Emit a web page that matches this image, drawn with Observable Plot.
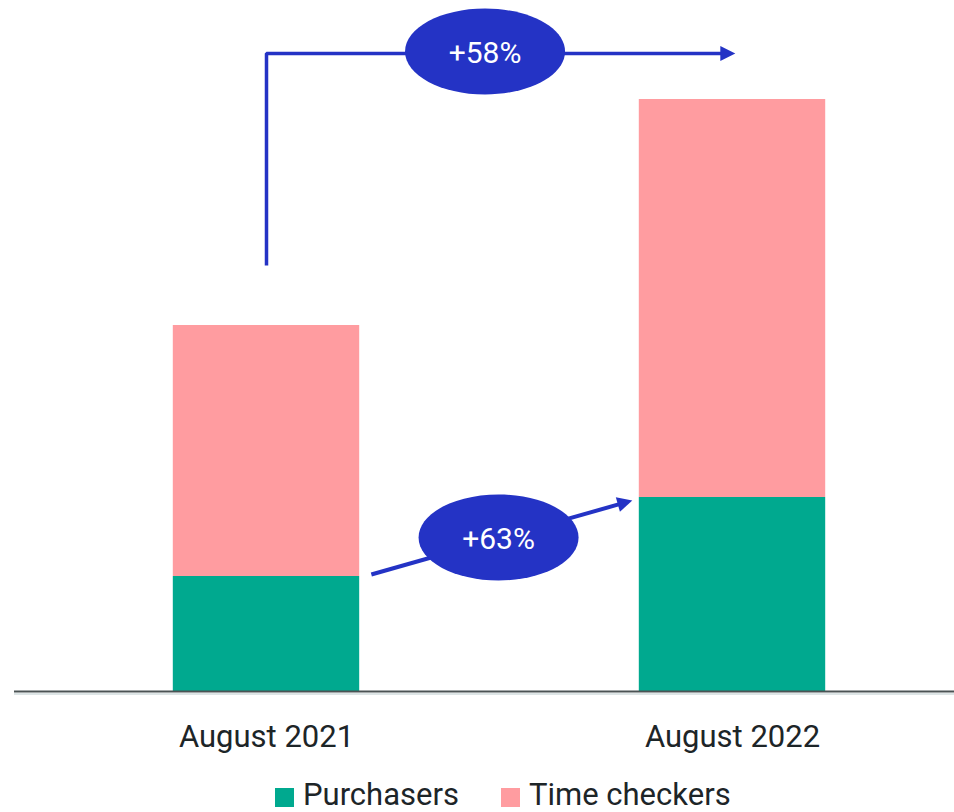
<!DOCTYPE html>
<html>
<head>
<meta charset="utf-8">
<script src="https://cdn.jsdelivr.net/npm/d3@7"></script>
<script src="https://cdn.jsdelivr.net/npm/@observablehq/plot@0.6"></script>
<style>
  body { margin: 0; background: #fff; font-family: Roboto, sans-serif; }
  #legend { display: flex; align-items: center; padding-left: 275px; height: 30px; line-height: 30px; font-size: 31px; color: #1d2528; }
  #legend .sw { width: 19px; height: 19px; margin-right: 9px; margin-top: 4px; }
  #legend .item + .item { margin-left: 42px; }
  #legend .item { display: flex; align-items: center; }
</style>
</head>
<body>
<div id="chart"></div>
<div id="legend"></div>
<script>
// ---- data ----
const periods = ["August 2021", "August 2022"];
const seriesNames = ["Purchasers", "Time checkers"];
const purchasers = [115, 194];
const timeCheckers = [251, 398];
const seriesColors = ["#00a98f", "#ff9ca0"];
const growthLabels = ["+58%", "+63%"];

// annotation geometry (data units: x = period index, y = value)
const totalArrow = [{x: 0, y: 426}, {x: 0, y: 638}, {x: 0.988, y: 638}];
const totalHead = [{x: 1.006, y: 638, angle: 0}];
const purchArrow = [{x: 0.225, y: 117}, {x: 0.7685, y: 188.8}];
const purchHead = [{x: 0.785, y: 191, angle: -15.8}];
const bubbles = [
  {x: 0.469, y: 640, label: growthLabels[0]},
  {x: 0.498, y: 154, label: growthLabels[1]}
];

const blue = "#2433c5";
const ink = "#1d2528";

// stacked rows
const rows = periods.flatMap((p, i) => {
  let base = 0;
  return seriesNames.map((s, k) => {
    const v = k === 0 ? purchasers[i] : timeCheckers[i];
    const r = {period: p, i, series: s, y1: base, y2: base + v};
    base += v;
    return r;
  });
});

// custom symbols
const ellipseSymbol = (rx, ry) => ({
  draw(ctx) {
    const k = 0.5523;
    ctx.moveTo(-rx, 0);
    ctx.bezierCurveTo(-rx, -ry * k, -rx * k, -ry, 0, -ry);
    ctx.bezierCurveTo(rx * k, -ry, rx, -ry * k, rx, 0);
    ctx.bezierCurveTo(rx, ry * k, rx * k, ry, 0, ry);
    ctx.bezierCurveTo(-rx * k, ry, -rx, ry * k, -rx, 0);
    ctx.closePath();
  }
});
const headSymbol = (deg, L = 15, W = 15) => ({
  draw(ctx) {
    const a = deg * Math.PI / 180, c = Math.cos(a), s = Math.sin(a);
    const rot = (x, y) => [x * c - y * s, x * s + y * c];
    const p1 = rot(-L, -W / 2), p2 = rot(-L, W / 2);
    ctx.moveTo(0, 0);
    ctx.lineTo(p1[0], p1[1]);
    ctx.lineTo(p2[0], p2[1]);
    ctx.closePath();
  }
});

const chart = Plot.plot({
  width: 954,
  height: 780,
  marginLeft: 14,
  marginRight: 0,
  marginTop: 0,
  marginBottom: 89,
  style: {fontFamily: "Roboto, sans-serif", background: "white"},
  x: {domain: [0, 1], range: [266, 732], axis: null},
  y: {domain: [0, 691], range: [691, 0], axis: null},
  color: {domain: seriesNames, range: seriesColors},
  marks: [
    Plot.rectY(rows, {x1: d => d.i - 0.2, x2: d => d.i + 0.2, y1: "y1", y2: "y2", fill: "series"}),
    Plot.ruleY([0], {dy: 2.5, stroke: "#dde5e6", strokeWidth: 2}),
    Plot.ruleY([0], {stroke: "#4b5354", strokeWidth: 2}),
    Plot.text(periods, {x: (d, i) => i, y: 0, dy: 55, text: d => d, lineAnchor: "bottom", fontSize: 31, fill: ink}),
    // total growth arrow
    Plot.line(totalArrow, {x: "x", y: "y", stroke: blue, strokeWidth: 3.5, strokeLinejoin: "miter", strokeLinecap: "butt"}),
    Plot.dot(totalHead, {x: "x", y: "y", fill: blue, stroke: null, symbol: d => headSymbol(d.angle)}),
    // purchasers growth arrow
    Plot.line(purchArrow, {x: "x", y: "y", stroke: blue, strokeWidth: 4, strokeLinecap: "butt"}),
    Plot.dot(purchHead, {x: "x", y: "y", fill: blue, stroke: null, symbol: d => headSymbol(d.angle)}),
    // bubbles
    Plot.dot(bubbles, {x: "x", y: "y", fill: blue, stroke: null, symbol: ellipseSymbol(80, 43)}),
    Plot.text(bubbles, {x: "x", y: "y", text: "label", dy: 2, fill: "white", fontSize: 30})
  ]
});
document.getElementById("chart").appendChild(chart);

// legend
const legend = document.getElementById("legend");
seriesNames.forEach((s, k) => {
  const item = document.createElement("div");
  item.className = "item";
  const sw = document.createElement("span");
  sw.className = "sw";
  sw.style.background = seriesColors[k];
  const t = document.createElement("span");
  t.textContent = s;
  item.appendChild(sw);
  item.appendChild(t);
  legend.appendChild(item);
});
</script>
</body>
</html>
